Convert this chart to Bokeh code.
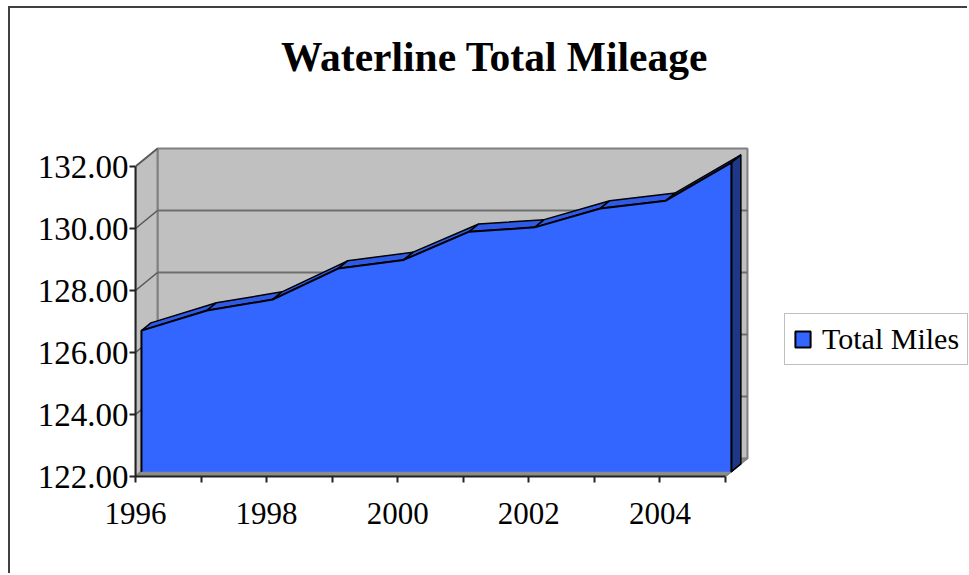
from bokeh.plotting import figure
from bokeh.models import (Range1d, FixedTicker, NumeralTickFormatter, Label,
                          Legend, LegendItem)
from bokeh.embed import file_html
from bokeh.resources import INLINE

# ---- data ----
years = [1996, 1997, 1998, 1999, 2000, 2001, 2002, 2003, 2004, 2005]
total_miles = [126.55, 127.20, 127.55, 128.55, 128.83, 129.74, 129.88, 130.49, 130.74, 131.97]
y_ticks = [122, 124, 126, 128, 130, 132]
x_label_years = [1996, 1998, 2000, 2002, 2004]
title_text = "Waterline Total Mileage"
series_name = "Total Miles"

# ---- 3D look parameters (depth vector in data units) ----
DX, DY = 0.336, 0.58          # depth of the box
F_FRONT, F_BACK = 0.27, 0.70  # depth band occupied by the area
X0, X1 = years[0], years[-1]
Y0, Y1 = y_ticks[0], y_ticks[-1]

# scale of the plot (pixels per data unit) and frame placement
PX_YEAR, PX_MILE = 65.55, 31.0
W, H = 959, 567
ML, MB = 125, 99
x_end = X0 + (W - ML) / PX_YEAR
y_end = Y0 + (H - MB) / PX_MILE

BLUE = "#3366FF"
TOP_BLUE = "#2E5AE6"
SIDE_BLUE = "#1F3785"
WALL = "#C0C0C0"
EDGE = "#808080"
FLOOR = "#8C8C8C"
FONT = "Liberation Serif"

p = figure(width=W, height=H, output_backend="svg", toolbar_location=None,
           x_range=Range1d(X0, x_end), y_range=Range1d(Y0, y_end),
           min_border_left=ML, min_border_right=0,
           min_border_top=0, min_border_bottom=MB)
p.styles = {"margin-left": "8px", "margin-top": "6px",
            "border-top": "2px solid #404040", "border-left": "2px solid #404040"}
p.outline_line_color = None
p.xgrid.visible = False
p.ygrid.visible = False
p.background_fill_color = "white"
p.border_fill_color = "white"

# front-face outline (drawn first, hidden under the walls) – used for the legend swatch
front_x = [X0 + F_FRONT * DX] + [x + F_FRONT * DX for x in years] + [X1 + F_FRONT * DX]
front_y = [Y0 + F_FRONT * DY] + [v + F_FRONT * DY for v in total_miles] + [Y0 + F_FRONT * DY]
legend_r = p.patch(front_x, front_y, fill_color=BLUE, line_color="black", line_width=2)

# walls
p.quad(left=[X0 + DX], right=[X1 + DX], bottom=[Y0 + DY], top=[Y1 + DY],
       fill_color=WALL, line_color=EDGE, line_width=2)
p.patch([X0, X0, X0 + DX, X0 + DX], [Y0, Y1, Y1 + DY, Y0 + DY],
        fill_color=WALL, line_color=EDGE, line_width=2)
# floor
p.patch([X0, X1, X1 + DX, X0 + DX], [Y0, Y0, Y0 + DY, Y0 + DY],
        fill_color=FLOOR, line_color=EDGE, line_width=1.5)
# gridlines
g = y_ticks[1:]
p.segment(x0=[X0] * len(g), y0=g, x1=[X0 + DX] * len(g), y1=[v + DY for v in g],
          line_color="#555555", line_width=1.5)
g2 = y_ticks[1:-1]
p.segment(x0=[X0 + DX] * len(g2), y0=[v + DY for v in g2],
          x1=[X1 + DX] * len(g2), y1=[v + DY for v in g2],
          line_color="#6E6E6E", line_width=2)

# area: top faces
fx, fy = F_FRONT * DX, F_FRONT * DY
bx, by = F_BACK * DX, F_BACK * DY
xs_top, ys_top = [], []
for i in range(len(years) - 1):
    xa, xb = years[i], years[i + 1]
    va, vb = total_miles[i], total_miles[i + 1]
    xs_top.append([xa + fx, xb + fx, xb + bx, xa + bx])
    ys_top.append([va + fy, vb + fy, vb + by, va + by])
p.patches(xs_top, ys_top, fill_color=TOP_BLUE, line_color="black", line_width=1.5)

# right side face
p.patch([X1 + fx, X1 + fx, X1 + bx, X1 + bx],
        [Y0 + fy, total_miles[-1] + fy, total_miles[-1] + by, Y0 + by],
        fill_color=SIDE_BLUE, line_color="black", line_width=1.5)

# front face
p.patch(front_x, front_y, fill_color=BLUE, line_color=None)
p.line(front_x, front_y, line_color="black", line_width=2)

# axes
p.yaxis.ticker = FixedTicker(ticks=y_ticks)
p.yaxis.formatter = NumeralTickFormatter(format="0.00")
p.yaxis.bounds = (Y0, Y1)
p.yaxis.major_label_text_font = FONT
p.yaxis.major_label_text_font_size = "33px"
p.yaxis.major_label_text_color = "black"
p.yaxis.major_tick_in = 0
p.yaxis.major_tick_out = 6
p.yaxis.minor_tick_line_color = None
p.yaxis.major_label_standoff = 1
p.yaxis.axis_line_width = 2
p.yaxis.axis_line_color = "#222222"
p.yaxis.major_tick_line_width = 2
p.yaxis.major_tick_line_color = "#222222"

p.xaxis.ticker = FixedTicker(ticks=years)
p.xaxis.major_label_overrides = {y: (str(y) if y in x_label_years else "") for y in years}
p.xaxis.bounds = (X0, X1)
p.xaxis.major_label_text_font = FONT
p.xaxis.major_label_text_font_size = "31px"
p.xaxis.major_label_text_color = "black"
p.xaxis.major_tick_in = 0
p.xaxis.major_tick_out = 6
p.xaxis.minor_tick_line_color = None
p.xaxis.major_label_standoff = 20
p.xaxis.axis_line_width = 2
p.xaxis.axis_line_color = "#222222"
p.xaxis.major_tick_line_width = 2
p.xaxis.major_tick_line_color = "#222222"

# title (inside the enlarged frame, above the chart box)
p.add_layout(Label(x=X0 + 359 / PX_YEAR, y=Y0 + 420 / PX_MILE, text=title_text,
                   text_font=FONT, text_font_size="41.5px", text_font_style="bold",
                   text_align="center", text_baseline="alphabetic", text_color="black"))

# legend
legend = Legend(items=[LegendItem(label=series_name, renderers=[legend_r])],
                location=(649, 111), orientation="vertical",
                border_line_color=EDGE, border_line_width=1.5,
                background_fill_color="white", background_fill_alpha=1,
                label_text_font=FONT, label_text_font_size="30px",
                label_text_color="black",
                glyph_width=19, glyph_height=20, label_standoff=10,
                padding=8, spacing=0, margin=0)
p.add_layout(legend)

open("out.html", "w").write(file_html(p, INLINE))
